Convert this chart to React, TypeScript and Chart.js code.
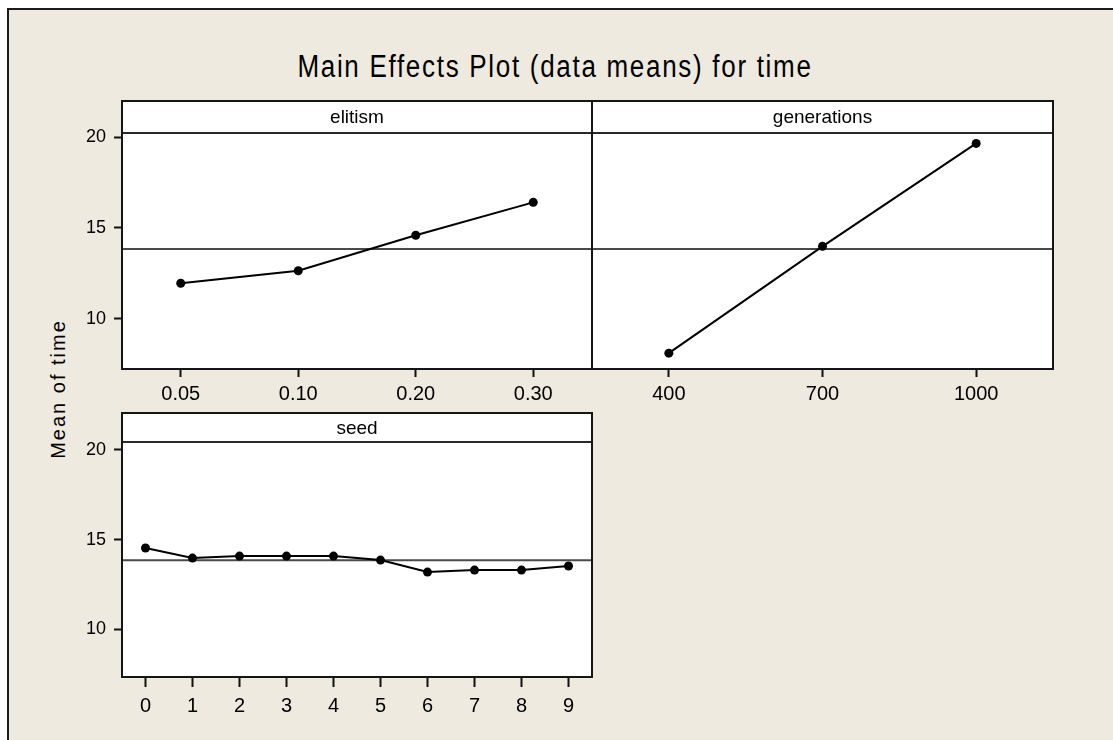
import React, { useEffect, useRef } from 'react';
import { Chart, registerables } from 'chart.js';

Chart.register(...registerables);

// ---------- data ----------
const titleText = 'Main Effects Plot (data means) for time';
const yAxisTitle = 'Mean of time';

const elitismName = 'elitism';
const elitismLevels = ['0.05', '0.10', '0.20', '0.30'];
const elitismMeans = [11.96, 12.65, 14.6, 16.41];

const generationsName = 'generations';
const generationLevels = ['400', '700', '1000'];
const generationMeans = [8.12, 13.99, 19.65];

const seedName = 'seed';
const seedLevels = ['0', '1', '2', '3', '4', '5', '6', '7', '8', '9'];
const seedMeans = [14.53, 13.97, 14.08, 14.08, 14.08, 13.86, 13.19, 13.3, 13.3, 13.53];

const yTickValues = [10, 15, 20];
const grandMean = 13.85;

// ---------- style ----------
const FONT = "'Liberation Sans', Arial, Helvetica, sans-serif";
const BG = '#EEEAE0';

type PanelProps = {
  name: string;
  labels: string[];
  values: number[];
  left: number;
  top: number;
  width: number;
  height: number;
  yMin: number;
  yMax: number;
  showY: boolean;
  padLeft: number;
  headerHeight: number;
  xTickLength: number;
  xPad: number;
};

function Panel(p: PanelProps) {
  const ref = useRef<HTMLCanvasElement>(null);

  useEffect(() => {
    if (!ref.current) return;
    const panelPlugin = {
      id: 'panelFrame',
      beforeDraw(chart: any) {
        const { ctx, chartArea: a } = chart;
        ctx.save();
        ctx.fillStyle = '#ffffff';
        ctx.fillRect(a.left, a.top, a.right - a.left, a.bottom - a.top);
        ctx.restore();
      },
      beforeDatasetsDraw(chart: any) {
        const { ctx, chartArea: a, scales } = chart;
        const y = scales.y.getPixelForValue(grandMean);
        ctx.save();
        ctx.strokeStyle = '#4a4a4a';
        ctx.lineWidth = 2;
        ctx.beginPath();
        ctx.moveTo(a.left, y);
        ctx.lineTo(a.right, y);
        ctx.stroke();
        ctx.restore();
      },
      afterDraw(chart: any) {
        const { ctx, chartArea: a } = chart;
        ctx.save();
        const hb = a.top + p.headerHeight;
        ctx.fillStyle = '#ffffff';
        ctx.fillRect(a.left, a.top, a.right - a.left, p.headerHeight);
        ctx.strokeStyle = '#2a2a2a';
        ctx.lineWidth = 2;
        ctx.beginPath();
        ctx.moveTo(a.left, hb);
        ctx.lineTo(a.right, hb);
        ctx.stroke();
        ctx.fillStyle = '#000';
        ctx.font = `19px ${FONT}`;
        ctx.textAlign = 'center';
        ctx.textBaseline = 'middle';
        ctx.fillText(p.name, (a.left + a.right) / 2, a.top + p.headerHeight / 2 + 1);
        ctx.strokeStyle = '#151515';
        ctx.lineWidth = 2;
        ctx.strokeRect(a.left, a.top, a.right - a.left, a.bottom - a.top);
        ctx.restore();
      },
    };

    const yScale: any = {
      type: 'linear',
      display: p.showY,
      min: p.yMin,
      max: p.yMax,
      afterBuildTicks: (s: any) => {
        s.ticks = yTickValues.map((v) => ({ value: v }));
      },
      grid: {
        display: true,
        drawOnChartArea: false,
        drawTicks: true,
        tickLength: 8,
        tickColor: '#111',
        tickWidth: 2,
      },
      border: { display: false },
      ticks: {
        color: '#000',
        font: { family: FONT, size: 18 },
        padding: 8,
      },
    };
    if (p.showY) {
      yScale.afterFit = (s: any) => {
        s.width = 60;
        s.paddingTop = 0;
        s.paddingBottom = 0;
      };
    }

    const chart = new Chart(ref.current, {
      type: 'line',
      data: {
        labels: p.labels,
        datasets: [
          {
            data: p.values,
            borderColor: '#000',
            borderWidth: 2,
            pointRadius: 4.5,
            pointBackgroundColor: '#000',
            pointBorderColor: '#000',
            pointBorderWidth: 0,
            tension: 0,
            fill: false,
          },
        ],
      },
      options: {
        responsive: false,
        animation: false,
        events: [],
        layout: {
          autoPadding: false,
          padding: { left: p.padLeft, right: 2, top: 6, bottom: 0 },
        },
        plugins: {
          legend: { display: false },
          tooltip: { enabled: false },
          title: { display: false },
        },
        scales: {
          x: {
            type: 'category',
            offset: true,
            grid: {
              display: true,
              drawOnChartArea: false,
              drawTicks: true,
              tickLength: p.xTickLength,
              tickColor: '#111',
              tickWidth: 2,
            },
            border: { display: false },
            ticks: {
              color: '#000',
              font: { family: FONT, size: 20 },
              padding: p.xPad,
              maxRotation: 0,
              autoSkip: false,
            },
            afterFit: (s: any) => {
              s.height = 38;
              s.paddingLeft = 0;
              s.paddingRight = 0;
            },
          },
          y: yScale,
        },
      } as any,
      plugins: [panelPlugin],
    });
    return () => chart.destroy();
  }, []);

  return (
    <canvas
      ref={ref}
      width={p.width}
      height={p.height}
      style={{ position: 'absolute', left: p.left, top: p.top, width: p.width, height: p.height }}
    />
  );
}

export default function App() {
  return (
    <div
      style={{
        position: 'absolute',
        left: 0,
        top: 0,
        width: 1113,
        height: 740,
        background: '#ffffff',
        overflow: 'hidden',
      }}
    >
      <div
        style={{
          position: 'absolute',
          left: 7,
          top: 8,
          width: 1130,
          height: 760,
          background: BG,
          borderTop: '2px solid #1b1b1b',
          borderLeft: '2px solid #1b1b1b',
        }}
      />
      <div
        style={{
          position: 'absolute',
          left: 55,
          top: 50,
          width: 1000,
          height: 32,
          lineHeight: '32px',
          textAlign: 'center',
          fontFamily: FONT,
          fontSize: 26,
          letterSpacing: '1.7px',
          color: '#000',
          whiteSpace: 'nowrap',
          transform: 'scaleY(1.2)',
        }}
      >
        {titleText}
      </div>
      <div
        style={{
          position: 'absolute',
          left: 58 - 110,
          top: 389 - 13,
          width: 220,
          height: 26,
          lineHeight: '26px',
          textAlign: 'center',
          fontFamily: FONT,
          fontSize: 20,
          letterSpacing: '2px',
          color: '#000',
          whiteSpace: 'nowrap',
          transform: 'rotate(-90deg)',
        }}
      >
        {yAxisTitle}
      </div>
      <Panel
        name={elitismName}
        labels={elitismLevels}
        values={elitismMeans}
        left={62}
        top={95}
        width={532}
        height={312}
        yMin={7.25}
        yMax={21.98}
        showY={true}
        padLeft={0}
        headerHeight={32}
        xTickLength={8}
        xPad={5}
      />
      <Panel
        name={generationsName}
        labels={generationLevels}
        values={generationMeans}
        left={590}
        top={95}
        width={465}
        height={312}
        yMin={7.25}
        yMax={21.98}
        showY={false}
        padLeft={2}
        headerHeight={32}
        xTickLength={8}
        xPad={5}
      />
      <Panel
        name={seedName}
        labels={seedLevels}
        values={seedMeans}
        left={62}
        top={407}
        width={532}
        height={308}
        yMin={7.34}
        yMax={22.06}
        showY={true}
        padLeft={0}
        headerHeight={29}
        xTickLength={10}
        xPad={7}
      />
    </div>
  );
}
